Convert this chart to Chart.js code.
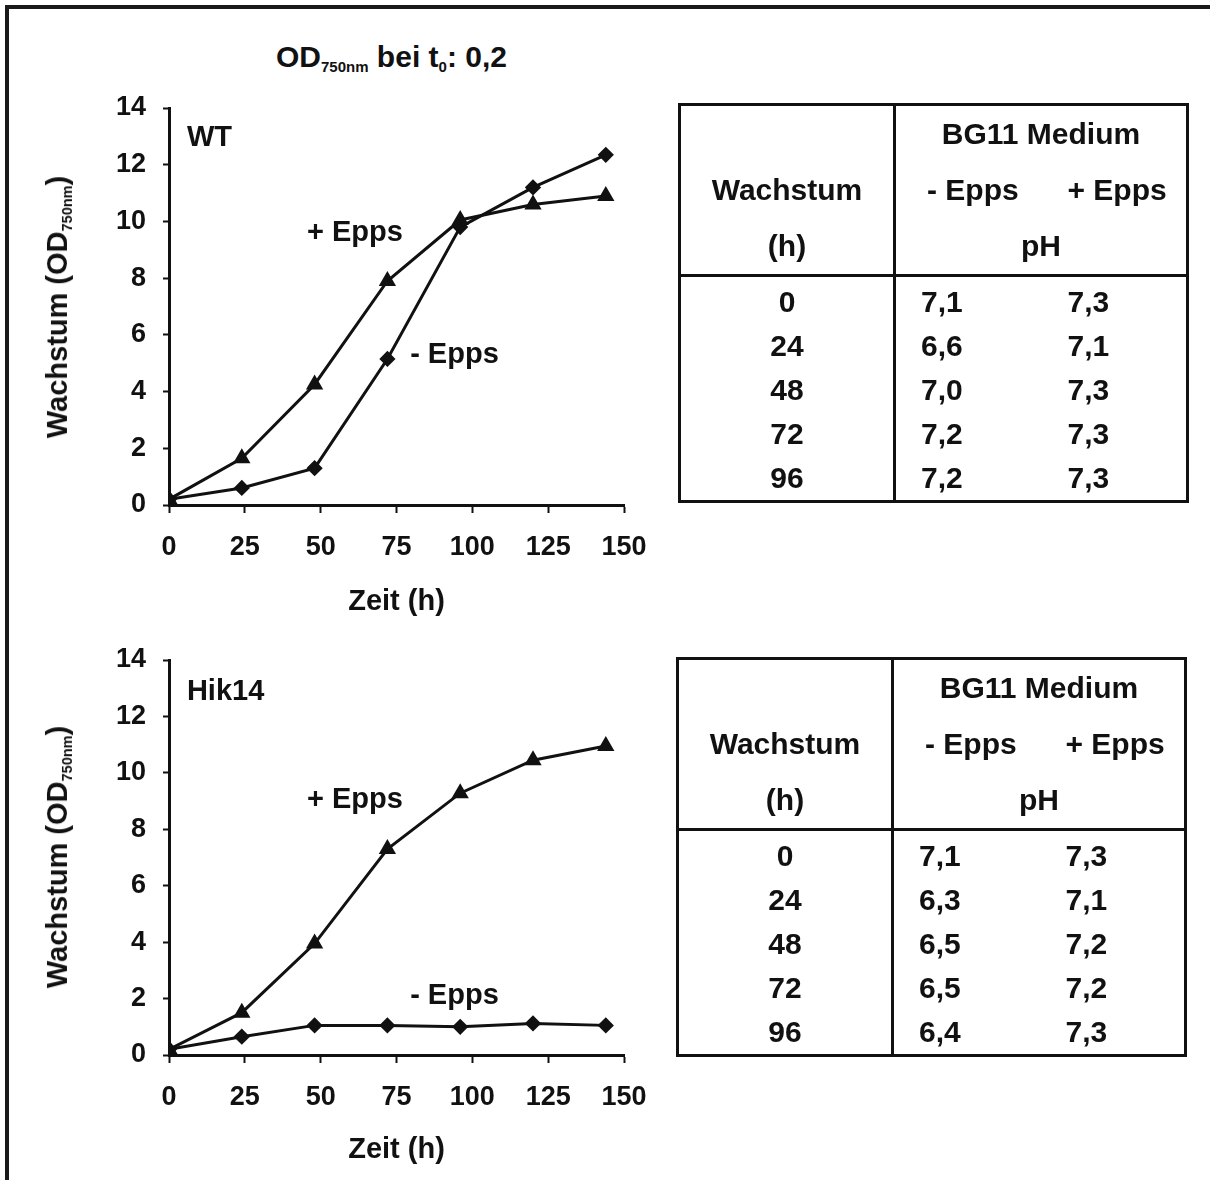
<!DOCTYPE html>
<html>
<head>
<meta charset="utf-8">
<script src="https://cdn.jsdelivr.net/npm/chart.js@4.4.1/dist/chart.umd.min.js"></script>
<style>
  body { margin: 0; background: #fff; font-family: "Liberation Sans", Arial, sans-serif; font-weight: bold; color: #111; }
  #page { position: relative; width: 1210px; height: 1180px; overflow: hidden; }
  #frame { position: absolute; left: 5px; top: 5px; right: -10px; bottom: -10px; border-top: 4px solid #1a1a1a; border-left: 4px solid #1a1a1a; }
  .abs { position: absolute; white-space: nowrap; }
  .title { font-size: 30px; }
  .ytitle { font-size: 29px; transform: translate(-50%, -50%) rotate(-90deg); }
  sub { font-size: 0.5em; vertical-align: -0.35em; }
  canvas { position: absolute; left: 0; }
  table.ph { position: absolute; border-collapse: collapse; table-layout: fixed; width: 508px; border: 3px solid #111; font-size: 30px; font-weight: bold; }
  table.ph td { padding: 0; height: 56px; line-height: 56px; box-sizing: border-box; }
  table.ph tbody td { height: 44px; line-height: 44px; }
  table.ph tbody tr:first-child td { height: 47px; line-height: 44px; padding-top: 3px; }
  table.ph .c1 { text-align: center; border-right: 3px solid #111; }
  table.ph .c2 { text-align: left; padding-left: 31px; }
  table.ph .c3 { text-align: left; padding-left: 26px; }
  table.ph .mid { text-align: center; padding-left: 0; }
  table.ph .val { padding-left: 25px; }
  table.ph thead tr:last-child td { border-bottom: 3px solid #111; }
</style>
</head>
<body>
<div id="page">
  <div id="frame"></div>
  <div class="abs title" style="left:276px; top:40px;">OD<sub>750nm</sub> bei t<sub>0</sub>: 0,2</div>

  <canvas id="wtChart" width="680" height="539" style="top:80px;"></canvas>
  <div class="abs ytitle" style="left:58px; top:307px;">Wachstum (OD<sub>750nm</sub>)</div>

  <canvas id="hikChart" width="680" height="537" style="top:630px;"></canvas>
  <div class="abs ytitle" style="left:58px; top:857px;">Wachstum (OD<sub>750nm</sub>)</div>

  <div id="tables"></div>
</div>

<script>
// growth curves, OD750nm over time (h)
const hours = [0, 24, 48, 72, 96, 120, 144];
const wtPlusEpps = [0.2, 1.65, 4.25, 7.9, 10.05, 10.6, 10.9];
const wtMinusEpps = [0.2, 0.6, 1.3, 5.15, 9.8, 11.2, 12.35];
const hikPlusEpps = [0.2, 1.5, 3.95, 7.3, 9.28, 10.45, 10.95];
const hikMinusEpps = [0.2, 0.65, 1.05, 1.05, 1.0, 1.12, 1.05];

// pH tables
const phHours = [0, 24, 48, 72, 96];
const wtPhMinus = [7.1, 6.6, 7.0, 7.2, 7.2];
const wtPhPlus = [7.3, 7.1, 7.3, 7.3, 7.3];
const hikPhMinus = [7.1, 6.3, 6.5, 6.5, 6.4];
const hikPhPlus = [7.3, 7.1, 7.2, 7.2, 7.3];

const FONT = "'Liberation Sans', Arial, sans-serif";
const INK = '#111';

const toPoints = (xs, ys) => xs.map((x, i) => ({ x: x, y: ys[i] }));

// text labels inside the plot, placed in data coordinates
const plotLabels = {
  id: 'plotLabels',
  afterDatasetsDraw(chart, args, opts) {
    const ctx = chart.ctx;
    const { x, y } = chart.scales;
    ctx.save();
    ctx.fillStyle = INK;
    ctx.font = 'bold 29px ' + FONT;
    ctx.textAlign = 'left';
    ctx.textBaseline = 'middle';
    (opts.items || []).forEach(item => {
      ctx.fillText(item.text, x.getPixelForValue(item.x), y.getPixelForValue(item.y));
    });
    ctx.restore();
  }
};

function renderGrowthChart(canvasId, plusData, minusData, labels, padTop, xHeight) {
  const ctx = document.getElementById(canvasId).getContext('2d');
  const lineStyle = {
    borderColor: INK,
    backgroundColor: INK,
    borderWidth: 3,
    fill: false,
    tension: 0,
    showLine: true
  };
  return new Chart(ctx, {
    type: 'scatter',
    data: {
      datasets: [
        Object.assign({ label: '+ Epps', data: toPoints(hours, plusData), pointStyle: 'triangle', pointRadius: 7 }, lineStyle),
        Object.assign({ label: '- Epps', data: toPoints(hours, minusData), pointStyle: 'rectRot', pointRadius: 6 }, lineStyle)
      ]
    },
    options: {
      responsive: false,
      animation: false,
      layout: { padding: { top: padTop, right: 56, left: 0, bottom: 0 } },
      plugins: {
        legend: { display: false },
        tooltip: { enabled: false },
        plotLabels: { items: labels }
      },
      scales: {
        x: {
          type: 'linear',
          min: 0,
          max: 150,
          ticks: {
            stepSize: 25,
            color: INK,
            padding: 18,
            font: { family: FONT, weight: 'bold', size: 27 }
          },
          grid: { display: true, drawOnChartArea: false, drawTicks: true, tickLength: 8, tickWidth: 2, tickColor: INK },
          border: { display: true, color: INK, width: 3 },
          title: {
            display: true,
            text: 'Zeit (h)',
            color: INK,
            padding: 0,
            font: { family: FONT, weight: 'bold', size: 29 }
          },
          afterFit: s => { s.height = xHeight; s.paddingLeft = 0; s.paddingRight = 0; }
        },
        y: {
          min: 0,
          max: 14,
          ticks: {
            stepSize: 2,
            color: INK,
            padding: 17,
            font: { family: FONT, weight: 'bold', size: 27 }
          },
          grid: { display: true, drawOnChartArea: false, drawTicks: true, tickLength: 6, tickWidth: 2, tickColor: INK },
          border: { display: true, color: INK, width: 3 },
          afterFit: s => { s.width = 169; s.paddingTop = 0; s.paddingBottom = 0; }
        }
      }
    },
    plugins: [plotLabels]
  });
}

renderGrowthChart('wtChart', wtPlusEpps, wtMinusEpps, [
  { text: 'WT', x: 5.9, y: 12.95 },
  { text: '+ Epps', x: 45.5, y: 9.6 },
  { text: '- Epps', x: 79.5, y: 5.3 }
], 28, 114);

renderGrowthChart('hikChart', hikPlusEpps, hikMinusEpps, [
  { text: 'Hik14', x: 5.9, y: 12.87 },
  { text: '+ Epps', x: 45.5, y: 9.04 },
  { text: '- Epps', x: 79.5, y: 2.09 }
], 30, 112);

const fmt = v => v.toFixed(1).replace('.', ',');

function buildPhTable(left, top, minus, plus) {
  let html = '<table class="ph" style="left:' + left + 'px; top:' + top + 'px;">' +
    '<colgroup><col style="width:215px"><col style="width:147px"><col style="width:146px"></colgroup><thead>' +
    '<tr><td class="c1"></td><td class="c2 mid" colspan="2">BG11 Medium</td></tr>' +
    '<tr><td class="c1">Wachstum</td><td class="c2">- Epps</td><td class="c3">+ Epps</td></tr>' +
    '<tr><td class="c1">(h)</td><td class="c2 mid" colspan="2">pH</td></tr></thead><tbody>';
  phHours.forEach((h, i) => {
    html += '<tr><td class="c1">' + h + '</td><td class="c2 val">' + fmt(minus[i]) +
      '</td><td class="c3">' + fmt(plus[i]) + '</td></tr>';
  });
  html += '</tbody></table>';
  return html;
}

document.getElementById('tables').innerHTML =
  buildPhTable(678, 103, wtPhMinus, wtPhPlus) +
  buildPhTable(676, 657, hikPhMinus, hikPhPlus);
</script>
</body>
</html>
